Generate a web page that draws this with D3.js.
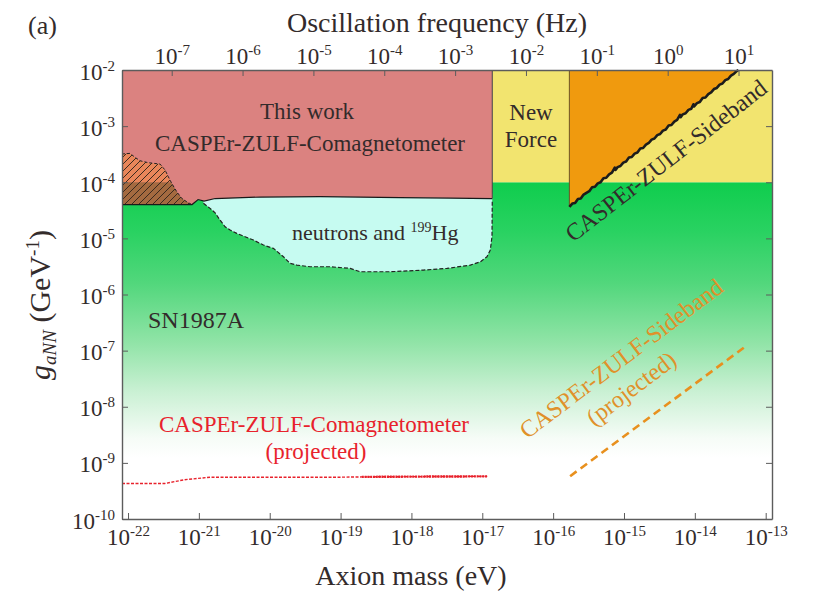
<!DOCTYPE html>
<html>
<head>
<meta charset="utf-8">
<script src="https://cdn.jsdelivr.net/npm/d3@7"></script>
<style>
  body { margin: 0; background: #fff; }
  text { font-family: "Liberation Serif", "Times New Roman", serif; fill: #332b2b; }
</style>
</head>
<body>
<svg id="chart" width="815" height="593"></svg>
<script>
// everything below is in log10 units: mass in eV, coupling in GeV^-1
const massRange = [-22.085, -12.911]
const gRange = [-10, -2]
const massTicks = [-22, -21, -20, -19, -18, -17, -16, -15, -14, -13]
const gTicks = [-10, -9, -8, -7, -6, -5, -4, -3, -2]
const freqTicks = [-7, -6, -5, -4, -3, -2, -1, 0, 1]
const eVtoHz = 2.418e14

const snTop = -4             // SN1987A bound
const newForceEdge = -16.859 // where this work stops and New Force starts
const sidebandLeft = -15.771

// lower edge of "this work" (left to right)
const thisWorkBottom = [
  [-22.085, -4.397], [-21.096, -4.397], [-21.011, -4.308], [-20.927, -4.335],
  [-20.771, -4.290], [-20.136, -4.264], [-19.288, -4.255], [-18.158, -4.273],
  [-17.452, -4.282], [-16.859, -4.291]
]

// upper edge of the hatched region
const hatchTop = [
  [-22.085, -3.497], [-21.972, -3.485], [-21.901, -3.556], [-21.831, -3.617],
  [-21.713, -3.652], [-21.548, -3.676], [-21.477, -3.783], [-21.431, -3.902],
  [-21.383, -4.020], [-21.312, -4.169], [-21.242, -4.287], [-21.171, -4.348],
  [-21.100, -4.397]
]
const hatchBottom = -4.397

// lower edge of neutrons and 199Hg
const neutronsBottom = [
  [-20.936, -4.376], [-20.842, -4.465], [-20.771, -4.544], [-20.701, -4.674],
  [-20.630, -4.793], [-20.559, -4.852], [-20.465, -4.911], [-20.371, -4.959],
  [-20.230, -5.030], [-20.089, -5.119], [-19.948, -5.178], [-19.806, -5.328],
  [-19.712, -5.446], [-19.617, -5.476], [-19.429, -5.506], [-19.147, -5.506],
  [-18.864, -5.535], [-18.723, -5.595], [-18.299, -5.595], [-17.833, -5.565],
  [-17.499, -5.535], [-17.169, -5.476], [-17.028, -5.417], [-16.934, -5.328],
  [-16.887, -5.209], [-16.863, -4.971], [-16.859, -4.317]
]

// CASPEr-ZULF-Sideband limit (noisy measured curve)
const sidebandLine = [
  [-15.77, -4.44], [-15.73, -4.38], [-15.69, -4.37], [-15.65, -4.30], [-15.61, -4.29],
  [-15.57, -4.22], [-15.53, -4.19], [-15.49, -4.16], [-15.45, -4.09], [-15.41, -4.08],
  [-15.37, -4.02], [-15.33, -4.00], [-15.29, -3.93], [-15.25, -3.92], [-15.21, -3.86],
  [-15.17, -3.83], [-15.13, -3.74], [-15.12, -3.78], [-15.09, -3.73], [-15.05, -3.71],
  [-15.01, -3.65], [-14.97, -3.63], [-14.93, -3.56], [-14.89, -3.55], [-14.85, -3.49],
  [-14.81, -3.47], [-14.77, -3.40], [-14.73, -3.39], [-14.69, -3.33], [-14.65, -3.30],
  [-14.61, -3.24], [-14.57, -3.22], [-14.53, -3.16], [-14.49, -3.14], [-14.45, -3.08],
  [-14.41, -3.06], [-14.37, -2.99], [-14.33, -2.98], [-14.29, -2.92], [-14.25, -2.89],
  [-14.21, -2.80], [-14.20, -2.84], [-14.17, -2.79], [-14.13, -2.77], [-14.09, -2.71],
  [-14.05, -2.69], [-14.02, -2.61], [-14.01, -2.65], [-13.97, -2.59], [-13.93, -2.57],
  [-13.89, -2.50], [-13.85, -2.49], [-13.81, -2.43], [-13.77, -2.40], [-13.73, -2.34],
  [-13.69, -2.32], [-13.65, -2.26], [-13.61, -2.24], [-13.57, -2.18], [-13.53, -2.16],
  [-13.49, -2.10], [-13.45, -2.07], [-13.41, -2.02], [-13.384, -2.00]
]

// projections
const comagProjected = [
  [-22.085, -9.367], [-21.48, -9.367], [-21.20, -9.300], [-20.84, -9.255],
  [-19.00, -9.255], [-18.70, -9.250], [-18.00, -9.245], [-16.93, -9.240]
]
const comagDense = -18.7
const sidebandProjected = [[-15.76, -9.237], [-13.28, -6.92]]

const svg = d3.select('#chart')
const margin = { top: 70, right: 43, bottom: 74, left: 122 }
const W = 815, H = 593

const x = d3.scaleLog().domain(massRange.map(v => 10 ** v)).range([margin.left, W - margin.right])
const y = d3.scaleLog().domain(gRange.map(v => 10 ** v)).range([H - margin.bottom, margin.top])
const fx = d3.scaleLog().domain(massRange.map(v => 10 ** v * eVtoHz)).range(x.range())

const px = d => x(10 ** d[0])
const py = d => y(10 ** d[1])
const line = d3.line().x(px).y(py)
const poly = pts => line(pts) + 'Z'

const mMin = massRange[0], mMax = massRange[1]

const defs = svg.append('defs')
const grad = defs.append('linearGradient').attr('id', 'snGrad')
  .attr('x1', 0).attr('x2', 0)
  .attr('gradientUnits', 'userSpaceOnUse')
  .attr('y1', y(10 ** snTop)).attr('y2', y(10 ** gRange[0]))
const stops = [[0, '#0fcd4d'], [0.15, '#2ad262'], [0.3, '#52d77c'], [0.48, '#92e4a8'],
  [0.62, '#c9f0d3'], [0.76, '#f6fcf7'], [0.82, '#ffffff']]
stops.forEach(s => grad.append('stop').attr('offset', s[0]).attr('stop-color', s[1]))

defs.append('pattern').attr('id', 'hatch').attr('patternUnits', 'userSpaceOnUse')
  .attr('width', 7).attr('height', 7)
  .append('path').attr('d', 'M-1,1 l2,-2 M0,7 l7,-7 M6,8 l2,-2')
  .attr('stroke', '#3b2a1e').attr('stroke-width', 1)

defs.append('clipPath').attr('id', 'aboveSN').append('rect')
  .attr('x', 0).attr('y', 0).attr('width', W).attr('height', y(10 ** snTop))
defs.append('clipPath').attr('id', 'belowSN').append('rect')
  .attr('x', 0).attr('y', y(10 ** snTop)).attr('width', W).attr('height', H)

// SN1987A
svg.append('path')
  .attr('d', poly([[mMin, snTop], [mMax, snTop], [mMax, gRange[0]], [mMin, gRange[0]]]))
  .attr('fill', 'url(#snGrad)')

// New Force
svg.append('path')
  .attr('d', poly([[newForceEdge, gRange[1]], [mMax, gRange[1]], [mMax, snTop], [newForceEdge, snTop]]))
  .attr('fill', '#f2e46f')

// neutrons and 199Hg
svg.append('path')
  .attr('d', poly(neutronsBottom.concat([[newForceEdge, -4.2], [-20.936, -4.2]])))
  .attr('fill', '#c6fbf1')

// this work
svg.append('path')
  .attr('d', poly([[mMin, gRange[1]], [newForceEdge, gRange[1]]].concat(thisWorkBottom.slice().reverse())))
  .attr('fill', '#db8280')

// sideband
svg.append('path')
  .attr('d', poly([[sidebandLeft, gRange[1]]].concat(sidebandLine.slice().reverse())))
  .attr('fill', '#f09a0e')
svg.append('path')
  .attr('d', line([[sidebandLeft, gRange[1]], [sidebandLeft, sidebandLine[0][1]]]))
  .attr('stroke', '#6e5426').attr('stroke-width', 1)

// hatched region, two tones above / below the SN line
const hatchPoly = poly(hatchTop.concat([[hatchTop[hatchTop.length - 1][0], hatchBottom], [mMin, hatchBottom]]))
svg.append('path').attr('d', hatchPoly).attr('fill', '#e9865a').attr('clip-path', 'url(#aboveSN)')
svg.append('path').attr('d', hatchPoly).attr('fill', '#a46a40').attr('clip-path', 'url(#belowSN)')
svg.append('path').attr('d', hatchPoly).attr('fill', 'url(#hatch)')
svg.append('path').attr('d', line(hatchTop))
  .attr('fill', 'none').attr('stroke', '#222').attr('stroke-width', 1).attr('stroke-dasharray', '3,2')

// boundaries
svg.append('path').attr('d', line(thisWorkBottom))
  .attr('fill', 'none').attr('stroke', '#1a1a1a').attr('stroke-width', 1.2)
svg.append('path').attr('d', line([[newForceEdge, gRange[1]], [newForceEdge, -4.29]]))
  .attr('stroke', '#444').attr('stroke-width', 1)
svg.append('path').attr('d', line(neutronsBottom))
  .attr('fill', 'none').attr('stroke', '#222').attr('stroke-width', 1.2).attr('stroke-dasharray', '4,2')
svg.append('path').attr('d', line(sidebandLine))
  .attr('fill', 'none').attr('stroke', '#1c1c1c').attr('stroke-width', 2.6)
  .attr('stroke-linejoin', 'round')

// projected limits
svg.append('path').attr('d', line(comagProjected))
  .attr('fill', 'none').attr('stroke', '#e8222c').attr('stroke-width', 1.4).attr('stroke-dasharray', '3,1.5')
svg.append('path').attr('d', line(comagProjected.filter(d => d[0] >= comagDense)))
  .attr('fill', 'none').attr('stroke', '#e8222c').attr('stroke-width', 2.4).attr('stroke-dasharray', '2,0.8')
svg.append('path').attr('d', line(sidebandProjected))
  .attr('fill', 'none').attr('stroke', '#e8901e').attr('stroke-width', 2.6).attr('stroke-dasharray', '8,5')

// axes
const axisColor = '#5c5c5c'
function supTicks(g, size) {
  g.selectAll('.tick text').each(function (d) {
    const t = d3.select(this)
    const e = Math.round(Math.log10(d))
    t.text(null)
    t.append('tspan').text('10')
    t.append('tspan').attr('font-size', size).attr('dy', '-0.6em').text(e)
  })
}
function styleAxis(g) {
  g.select('.domain').attr('stroke', axisColor).attr('stroke-width', 1.4)
  g.selectAll('.tick line').attr('stroke', axisColor).attr('stroke-width', 1)
  g.selectAll('.tick text').attr('fill', '#332b2b')
    .style('font-family', '"Liberation Serif", "Times New Roman", serif')
}

const gx = svg.append('g').attr('transform', `translate(0,${H - margin.bottom})`)
  .call(d3.axisBottom(x).tickValues(massTicks.map(v => 10 ** v)).tickSize(-6).tickSizeOuter(0))
styleAxis(gx)
gx.selectAll('.tick text').attr('font-size', 23).attr('y', 26).attr('dy', 0)
supTicks(gx, 15)

const gy = svg.append('g').attr('transform', `translate(${margin.left},0)`)
  .call(d3.axisLeft(y).tickValues(gTicks.map(v => 10 ** v)).tickSize(-6).tickPadding(7).tickSizeOuter(0))
styleAxis(gy)
gy.selectAll('.tick text').attr('font-size', 23).attr('dy', 9)
supTicks(gy, 15)

const gt = svg.append('g').attr('transform', `translate(0,${margin.top})`)
  .call(d3.axisTop(fx).tickValues(freqTicks.map(v => 10 ** v)).tickSize(-6).tickPadding(6).tickSizeOuter(0))
styleAxis(gt)
gt.selectAll('.tick text').attr('font-size', 23).attr('dy', 0)
supTicks(gt, 15)

const gr = svg.append('g').attr('transform', `translate(${W - margin.right},0)`)
  .call(d3.axisRight(y).tickValues(gTicks.map(v => 10 ** v)).tickSize(-6).tickFormat('').tickSizeOuter(0))
styleAxis(gr)

// titles
svg.append('text').attr('x', 28).attr('y', 34).attr('font-size', 26).text('(a)')
svg.append('text').attr('x', 437).attr('y', 32).attr('font-size', 28)
  .attr('text-anchor', 'middle').text('Oscillation frequency (Hz)')
svg.append('text').attr('x', 411).attr('y', 585).attr('font-size', 28)
  .attr('text-anchor', 'middle').text('Axion mass (eV)')

const yt = svg.append('text').attr('transform', 'translate(50,305) rotate(-90)')
  .attr('font-size', 30).attr('text-anchor', 'middle')
yt.append('tspan').attr('font-style', 'italic').text('g')
yt.append('tspan').attr('font-style', 'italic').attr('font-size', 19).attr('dy', 6).text('aNN')
yt.append('tspan').attr('dy', -6).text(' (GeV')
yt.append('tspan').attr('font-size', 19).attr('dy', -11).text('-1')
yt.append('tspan').attr('dy', 11).text(')')

// region labels
const label = (tx, ty, txt, size, color) => svg.append('text')
  .attr('x', tx).attr('y', ty).attr('font-size', size).attr('text-anchor', 'middle')
  .style('fill', color || '#332b2b').text(txt)

label(307, 119, 'This work', 23)
label(310, 151, 'CASPEr-ZULF-Comagnetometer', 23)
label(531, 120, 'New', 23)
label(531, 147, 'Force', 23)
label(196, 328, 'SN1987A', 24)
label(314, 432, 'CASPEr-ZULF-Comagnetometer', 23, '#e8222c')
label(316, 459, '(projected)', 23, '#e8222c')

const nt = svg.append('text').attr('x', 292).attr('y', 240).attr('font-size', 22)
nt.append('tspan').text('neutrons and ')
nt.append('tspan').attr('font-size', 14).attr('dy', -8).text('199')
nt.append('tspan').attr('dy', 8).text('Hg')

svg.append('text').attr('transform', 'translate(671,167) rotate(-37.8)')
  .attr('font-size', 24).attr('text-anchor', 'middle').text('CASPEr-ZULF-Sideband')

const sp = svg.append('g').attr('transform', 'translate(626,365) rotate(-37)')
sp.append('text').attr('font-size', 24).attr('text-anchor', 'middle').style('fill', '#e0912a')
  .text('CASPEr-ZULF-Sideband')
sp.append('text').attr('x', -10).attr('y', 30).attr('font-size', 24).attr('text-anchor', 'middle')
  .style('fill', '#e0912a').text('(projected)')
</script>
</body>
</html>
